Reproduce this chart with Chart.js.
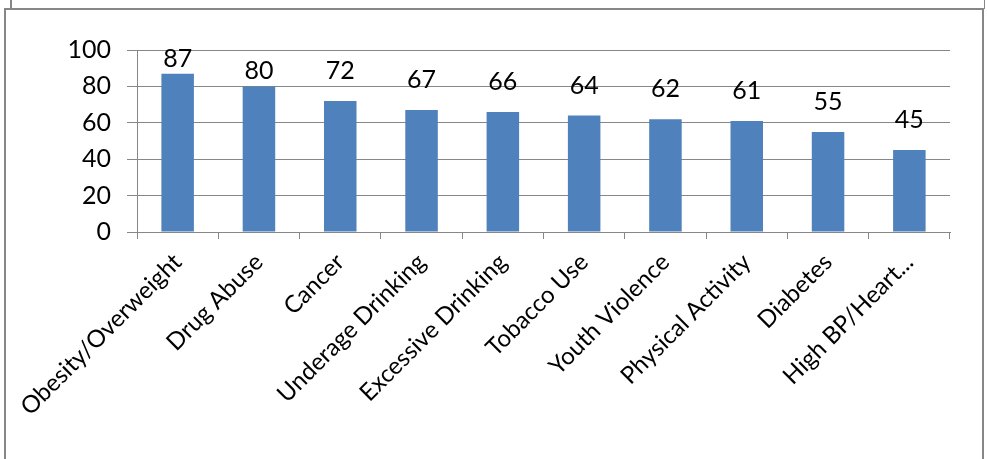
<!DOCTYPE html>
<html>
<head>
<meta charset="utf-8">
<script src="https://cdn.jsdelivr.net/npm/chart.js@4/dist/chart.umd.min.js"></script>
<style>
  html, body { margin: 0; padding: 0; background: #fff; overflow: hidden; }
  #wrap { position: relative; width: 987px; height: 459px; }
  #chart { position: absolute; left: 0; top: 0; }
  .frame { position: absolute; border: 2px solid #878787; border-bottom: none; left: 4px; top: 8px; width: 976px; height: 470px; }
  .stub { position: absolute; background: #878787; }
</style>
</head>
<body>
<div id="wrap">
  <div class="stub" style="left:10px;top:0;width:2px;height:9px"></div>
  <div class="stub" style="left:984px;top:0;width:1px;height:9px"></div>
  <div class="frame"></div>
  <canvas id="chart" width="987" height="459"></canvas>
</div>
<script>
// data
const categories = [
    'Obesity/Overweight', 'Drug Abuse', 'Cancer', 'Underage Drinking', 'Excessive Drinking',
    'Tobacco Use', 'Youth Violence', 'Physical Activity', 'Diabetes', 'High BP/Heart...'
];
const values = [87, 80, 72, 67, 66, 64, 62, 61, 55, 45];
const yTicks = [0, 20, 40, 60, 80, 100];

const gridColor = '#878787';
const barColor = '#4F81BD';
const font = { family: 'Lato, "Open Sans", sans-serif', size: 25 };

// value labels above the bars (pushed closer when they would hit the top)
const valueLabels = {
    id: 'valueLabels',
    afterDatasetsDraw(chart) {
        const ctx = chart.ctx;
        const meta = chart.getDatasetMeta(0);
        const area = chart.chartArea;
        ctx.save();
        ctx.font = `${font.size}px ${font.family}`;
        ctx.fillStyle = '#000';
        ctx.textAlign = 'center';
        ctx.textBaseline = 'middle';
        meta.data.forEach((bar, i) => {
            let y = bar.y - 30;
            if (y < area.top + 10) y = bar.y - 15;
            ctx.fillText(String(values[i]), bar.x, y);
        });
        ctx.restore();
    }
};

new Chart(document.getElementById('chart'), {
    type: 'bar',
    data: {
        labels: categories,
        datasets: [{
            data: values,
            backgroundColor: barColor,
            barPercentage: 0.4,
            categoryPercentage: 1
        }]
    },
    options: {
        responsive: false,
        animation: false,
        layout: { padding: { top: 50, right: 37, left: 0, bottom: 0 } },
        plugins: { legend: { display: false }, tooltip: { enabled: false } },
        scales: {
            x: {
                grid: { offset: true, drawOnChartArea: false, drawTicks: true, tickLength: 7, color: gridColor },
                border: { color: gridColor },
                ticks: {
                    color: '#000', font: { family: font.family, size: 24 }, maxRotation: 45, minRotation: 45,
                    autoSkip: false, padding: 9
                },
                afterFit(scale) { scale.height = 227; }
            },
            y: {
                min: 0, max: 100,
                afterBuildTicks(scale) { scale.ticks = yTicks.map(v => ({ value: v })); },
                grid: { color: gridColor, tickLength: 10 },
                border: { color: gridColor },
                ticks: { color: '#000', font: font, padding: 16 },
                afterFit(scale) { scale.width = 137; }
            }
        }
    },
    plugins: [valueLabels]
});
</script>
</body>
</html>
